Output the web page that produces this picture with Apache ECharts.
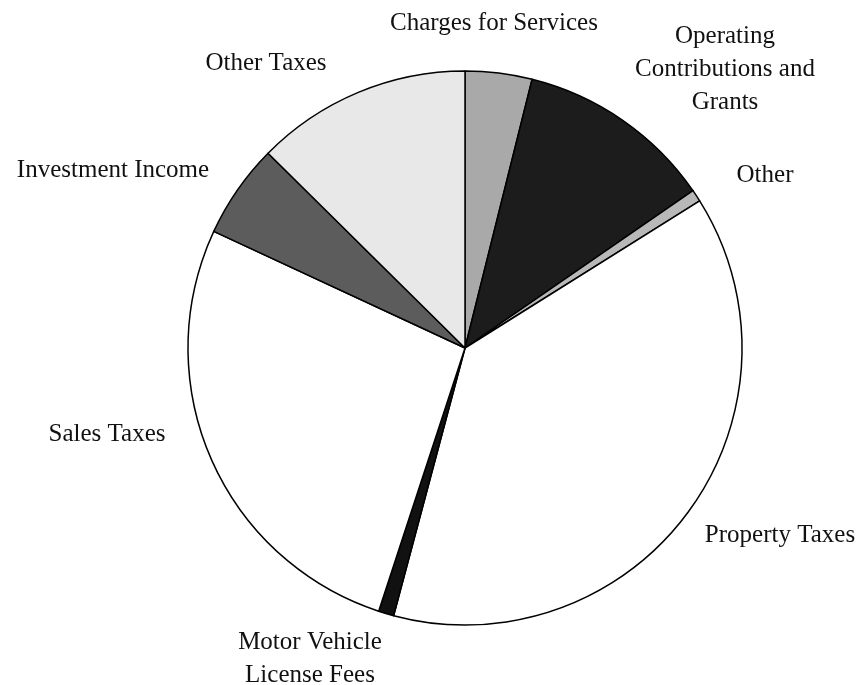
<!DOCTYPE html>
<html>
<head>
<meta charset="utf-8">
<script src="https://cdn.jsdelivr.net/npm/echarts@6/dist/echarts.min.js"></script>
<style>
  html, body { margin: 0; padding: 0; background: #fff; }
  #main { width: 859px; height: 685px; }
</style>
</head>
<body>
<div id="main"></div>
<script>
// slices, clockwise from 12 o'clock (percent of total)
var categories = [
  'Charges for Services',
  'Operating\nContributions and\nGrants',
  'Other',
  'Property Taxes',
  'Motor Vehicle\nLicense Fees',
  'Sales Taxes',
  'Investment Income',
  'Other Taxes'
];
var values = [3.9, 11.5, 0.7, 38.1, 0.9, 26.9, 5.5, 12.6];

// fill greys standing in for the printed screen tones
var fills = ['#a9a9a9', '#1c1c1c', '#b8b8b8', '#ffffff', '#111111', '#ffffff', '#5c5c5c', '#e8e8e8'];
// where each label sits (centre of text block)
var labelSpots = [
  [494, 23], [725, 69], [765, 175], [780, 535],
  [310, 659], [107, 434], [113, 170], [266, 63]
];

var chart = echarts.init(document.getElementById('main'), null, { renderer: 'canvas' });

var pieData = [];
for (var i = 0; i < categories.length; i++) {
  pieData.push({
    name: categories[i],
    value: values[i],
    itemStyle: { color: fills[i] }
  });
}

chart.setOption({
  animation: false,
  backgroundColor: '#ffffff',
  series: [{
    type: 'pie',
    center: [465, 348],
    radius: 277,
    startAngle: 90,
    clockwise: true,
    avoidLabelOverlap: false,
    itemStyle: {
      borderColor: '#000',
      borderWidth: 1.5
    },
    label: {
      show: true,
      position: 'outside',
      formatter: '{b}',
      fontFamily: '"Liberation Serif", "Times New Roman", serif',
      fontSize: 25,
      lineHeight: 33,
      color: '#111',
      align: 'center'
    },
    labelLine: { show: false },
    labelLayout: function (params) {
      var p = labelSpots[params.dataIndex];
      return {
        x: p[0],
        y: p[1],
        align: 'center',
        verticalAlign: 'middle',
        hideOverlap: false
      };
    },
    emphasis: { disabled: true },
    data: pieData
  }]
});
</script>
</body>
</html>
